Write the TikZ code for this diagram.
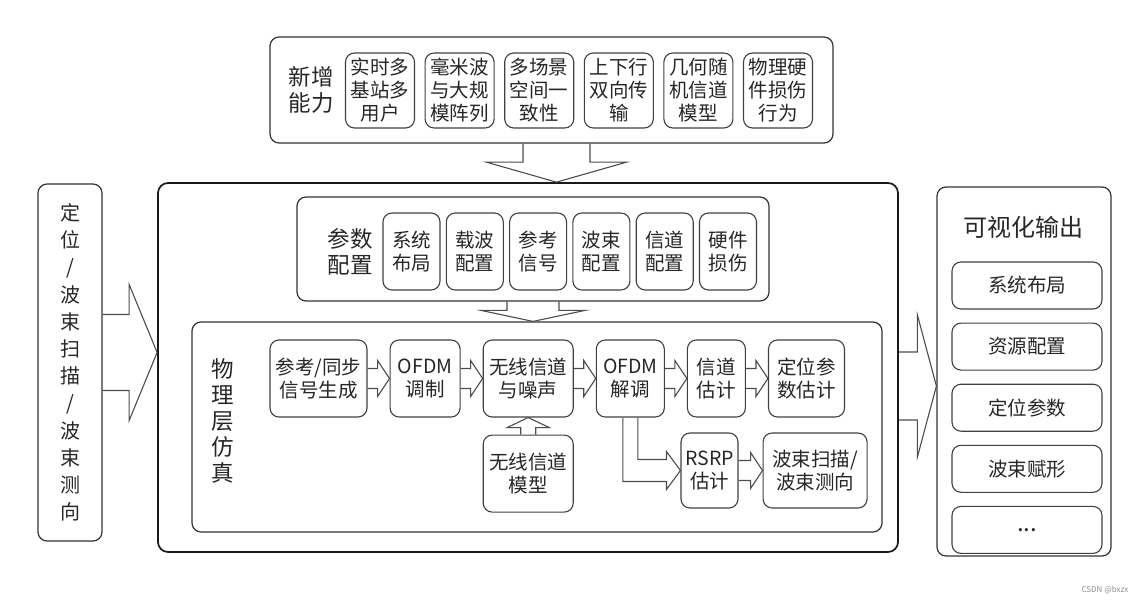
\documentclass[tikz,border=0pt]{standalone}
\usepackage{fontspec}
\setmainfont{Noto Sans CJK SC}
\usetikzlibrary{positioning,calc}

\begin{document}
\begin{tikzpicture}[
    x=1pt, y=-1pt,
    node distance=10pt and 9.5pt,
    frame/.style={draw=black!80, line width=1.2pt, rounded corners=9pt},
    mainframe/.style={draw=black!90, line width=1.7pt, rounded corners=10pt},
    blk/.style={draw=black!75, line width=1.1pt, rounded corners=9pt, align=center, inner sep=2pt, text=black!85, font=\fontsize{19.5}{23}\selectfont},
    capbox/.style={blk, minimum width=69pt, minimum height=75pt},
    parbox/.style={blk, minimum width=57pt, minimum height=77pt},
    vizbox/.style={blk, minimum width=150pt, minimum height=47pt},
    lbl/.style={align=center, inner sep=0pt, text=black!85, font=\fontsize{22.5}{26}\selectfont},
    barrow/.style={draw=black!70, line width=1.1pt, line join=miter} % block arrow outline
]
\useasboundingbox (0,0) rectangle (1146,604);

% --- New capabilities ---
\node[frame, minimum width=563pt, minimum height=106pt] (newcap) at (551.5,90) {};
\node[lbl] (newlbl) at (311,90) {新增\\能力};
\node[capbox] (cap1) at (380,90.5) {实时多\\基站多\\用户};
\node[capbox, right=of cap1] (cap2) {毫米波\\与大规\\模阵列};
\node[capbox, right=of cap2] (cap3) {多场景\\空间一\\致性};
\node[capbox, right=of cap3] (cap4) {上下行\\双向传\\输};
\node[capbox, right=of cap4] (cap5) {几何随\\机信道\\模型};
\node[capbox, right=of cap5] (cap6) {物理硬\\件损伤\\行为};

% --- Simulator frame ---
\node[mainframe, minimum width=740pt, minimum height=369pt] (sim) at (528,367.5) {};

% --- Parameter configuration ---
\node[frame, minimum width=472pt, minimum height=104pt] (param) at (533,249) {};
\node[lbl] (paramlbl) at (350,252) {参数\\配置};
\node[parbox] (par1) at (411.5,251.5) {系统\\布局};
\node[parbox, right=5.2pt of par1] (par2) {载波\\配置};
\node[parbox, right=5.2pt of par2] (par3) {参考\\信号};
\node[parbox, right=5.2pt of par3] (par4) {波束\\配置};
\node[parbox, right=5.2pt of par4] (par5) {信道\\配置};
\node[parbox, right=5.2pt of par5] (par6) {硬件\\损伤};

% --- Physical layer simulation ---
\node[frame, minimum width=690pt, minimum height=210pt] (phy) at (537,427) {};
\node[lbl] (phylbl) at (223,421) {物\\理\\层\\仿\\真};
\node[blk, minimum width=97pt, minimum height=77pt] (refgen) at (318.5,378.5) {参考/同步\\信号生成};
\node[blk, minimum width=70pt, minimum height=77pt, right=22pt of refgen] (ofdmmod) {OFDM\\调制};
\node[blk, minimum width=90pt, minimum height=77pt, right=22pt of ofdmmod] (chan) {无线信道\\与噪声};
\node[blk, minimum width=68pt, minimum height=77pt, right=22pt of chan] (ofdmdem) {OFDM\\解调};
\node[blk, minimum width=58pt, minimum height=77pt, right=22pt of ofdmdem] (chest) {信道\\估计};
\node[blk, minimum width=76pt, minimum height=77pt, right=22pt of chest] (posest) {定位参\\数估计};
\node[blk, minimum width=90pt, minimum height=77pt, below=17pt of chan] (chmodel) {无线信道\\模型};
\node[blk, minimum width=57pt, minimum height=75pt] (rsrp) at (709.5,470.5) {RSRP\\估计};
\node[blk, minimum width=104pt, minimum height=75pt, right=24pt of rsrp] (beam) {波束扫描/\\波束测向};

% --- Side boxes ---
\node[frame, minimum width=64pt, minimum height=357pt, align=center, inner sep=0pt, text=black!85,
      font=\fontsize{20}{27.2}\selectfont] (lefttag) at (70,362.5)
      {定\\位\\/\\波\\束\\扫\\描\\/\\波\\束\\测\\向};
\node[frame, minimum width=174pt, minimum height=369pt] (viz) at (1024,371.5) {};
\node[text=black!85, font=\fontsize{24}{28}\selectfont] (vizlbl) at (1023,227) {可视化输出};
\node[vizbox] (viz1) at (1027,285.5) {系统布局};
\node[vizbox, below=13pt of viz1] (viz2) {资源配置};
\node[vizbox, below=13pt of viz2] (viz3) {定位参数};
\node[vizbox, below=13pt of viz3] (viz4) {波束赋形};
\node[vizbox, below=13pt of viz4, font=\fontsize{24}{23}\selectfont] (viz5) {...};

% --- Block arrows along the processing chain ---
\foreach \a/\b in {refgen/ofdmmod,ofdmmod/chan,chan/ofdmdem,ofdmdem/chest,chest/posest,rsrp/beam}{
  \draw[barrow] ($(\a.east)+(0,-10)$) -- ($(\b.west)+(-12,-10)$) -- ($(\b.west)+(-12,-18)$) -- (\b.west)
    -- ($(\b.west)+(-12,18)$) -- ($(\b.west)+(-12,10)$) -- ($(\a.east)+(0,10)$);
}
% channel model feeds the channel
\draw[barrow] ($(chmodel.north)+(-7.5,0)$) -- ($(chan.south)+(-7.5,10)$) -- ($(chan.south)+(-21,10)$) -- (chan.south)
  -- ($(chan.south)+(21,10)$) -- ($(chan.south)+(7.5,10)$) -- ($(chmodel.north)+(7.5,0)$);
% demodulation branch to RSRP
\draw[barrow] ($(ofdmdem.south)+(7.5,0)$) -- ($(ofdmdem.south |- rsrp.west)+(7.5,-11)$) -- ($(rsrp.west)+(-14,-11)$)
  -- ($(rsrp.west)+(-14,-19)$) -- (rsrp.west) -- ($(rsrp.west)+(-14,19)$) -- ($(rsrp.west)+(-14,11)$)
  -- ($(ofdmdem.south |- rsrp.west)+(-7.5,11)$) -- ($(ofdmdem.south)+(-7.5,0)$);

% --- Big arrows between blocks ---
\coordinate (capout) at ($(newcap.south)+(5,0)$);
\coordinate (simin) at (capout |- sim.north);
\draw[barrow] ($(capout)+(-33.5,0)$) -- ($(simin)+(-33.5,-20)$) -- ($(simin)+(-70,-20)$) -- (simin)
  -- ($(simin)+(70,-20)$) -- ($(simin)+(33.5,-20)$) -- ($(capout)+(33.5,0)$);

\coordinate (phyin) at (param.south |- phy.north);
\draw[barrow] ($(param.south)+(-26,0)$) -- ($(phyin)+(-26,-11)$) -- ($(phyin)+(-52,-11)$) -- (phyin)
  -- ($(phyin)+(52,-11)$) -- ($(phyin)+(26,-11)$) -- ($(param.south)+(26,0)$);

\coordinate (tagout) at ($(lefttag.east)+(0,-10)$);
\coordinate (simleft) at (tagout -| sim.west);
\draw[barrow] ($(tagout)+(0,-38)$) -- ($(simleft)+(-28,-38)$) -- ($(simleft)+(-28,-68)$) -- (simleft)
  -- ($(simleft)+(-28,68)$) -- ($(simleft)+(-28,38)$) -- ($(tagout)+(0,38)$);

\coordinate (simout) at ($(sim.east)+(0,18.5)$);
\coordinate (vizin) at (simout -| viz.west);
\draw[barrow] ($(simout)+(0,-34)$) -- ($(vizin)+(-19,-34)$) -- ($(vizin)+(-19,-71)$) -- (vizin)
  -- ($(vizin)+(-19,71)$) -- ($(vizin)+(-19,34)$) -- ($(simout)+(0,34)$);

\node[text=black!45, font=\fontsize{8}{9}\selectfont] (mark) at (1105,590) {CSDN @bxzx};
\end{tikzpicture}
\end{document}
